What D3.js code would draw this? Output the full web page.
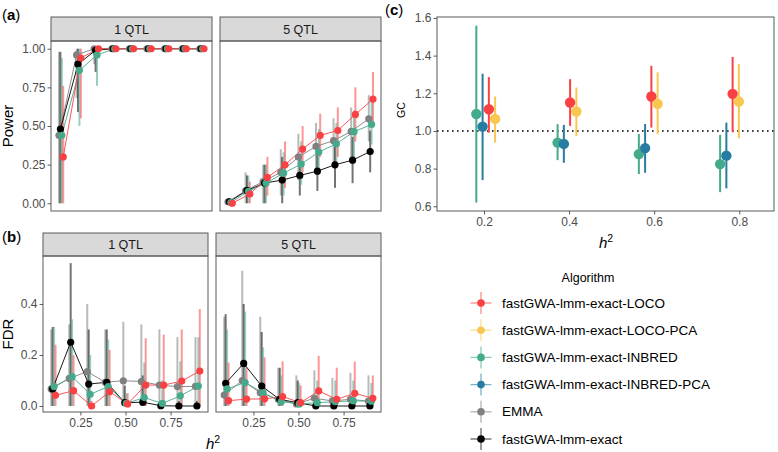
<!DOCTYPE html>
<html><head><meta charset="utf-8">
<script src="https://cdn.jsdelivr.net/npm/d3@7"></script>
<style>body{margin:0;background:#fff} svg{display:block;font-family:"Liberation Sans",Arial,sans-serif}</style>
</head><body><svg id="chart" width="778" height="452"></svg>
<script>
// ---------- data ----------
const h2 = [0.1, 0.2, 0.3, 0.4, 0.5, 0.6, 0.7, 0.8, 0.9];
const methodsAB = ["EMMA", "fastGWA-lmm-exact", "fastGWA-lmm-exact-INBRED", "fastGWA-lmm-exact-LOCO"];
const colorsAB = ["#808080", "#000000", "#43AA8B", "#F94144"];

// Power, 1 QTL (rows: EMMA, exact, INBRED, LOCO)
const power1QTL = [
  [0.44, 0.96, 1.00, 1, 1, 1, 1, 1, 1],
  [0.48, 0.90, 0.99, 1, 1, 1, 1, 1, 1],
  [0.44, 0.86, 0.96, 1, 1, 1, 1, 1, 1],
  [0.30, 0.94, 1.00, 1, 1, 1, 1, 1, 1]
];
const power1QTLLow = [
  [0, 0.68, 0.90, 1, 1, 1, 1, 1, 1],
  [0, 0.59, 0.85, 1, 1, 1, 1, 1, 1],
  [0, 0.50, 0.76, 1, 1, 1, 1, 1, 1],
  [0, 0.55, 0.97, 1, 1, 1, 1, 1, 1]
];
const power1QTLHigh = [
  [0.98, 1, 1, 1, 1, 1, 1, 1, 1],
  [0.98, 1, 1, 1, 1, 1, 1, 1, 1],
  [0.94, 1, 1, 1, 1, 1, 1, 1, 1],
  [0.76, 1, 1, 1, 1, 1, 1, 1, 1]
];
// Power, 5 QTL
const power5QTL = [
  [0.01, 0.081, 0.141, 0.20, 0.299, 0.368, 0.405, 0.465, 0.547],
  [0.01, 0.083, 0.131, 0.15, 0.180, 0.208, 0.249, 0.279, 0.335],
  [0.005, 0.077, 0.131, 0.195, 0.254, 0.331, 0.385, 0.463, 0.510],
  [0.0, 0.060, 0.167, 0.249, 0.351, 0.439, 0.471, 0.575, 0.674]
];
const power5QTLLow = [
  [0, 0, 0, 0.05, 0.15, 0.20, 0.25, 0.30, 0.40],
  [0, 0, 0, 0, 0.05, 0.08, 0.10, 0.13, 0.20],
  [0, 0, 0, 0.05, 0.12, 0.20, 0.25, 0.30, 0.38],
  [0, 0, 0.05, 0.10, 0.20, 0.30, 0.30, 0.40, 0.50]
];
const power5QTLHigh = [
  [0.03, 0.20, 0.25, 0.35, 0.45, 0.52, 0.55, 0.62, 0.70],
  [0.03, 0.18, 0.25, 0.30, 0.32, 0.36, 0.40, 0.43, 0.47],
  [0.02, 0.18, 0.25, 0.33, 0.40, 0.48, 0.52, 0.60, 0.66],
  [0.02, 0.14, 0.30, 0.40, 0.50, 0.58, 0.62, 0.75, 0.85]
];
// FDR, 1 QTL
const fdr1QTL = [
  [0.067, 0.108, 0.135, 0.093, 0.099, 0.096, 0.082, 0.076, 0.077],
  [0.067, 0.250, 0.086, 0.093, 0.013, 0.015, 0.001, 0.0, 0.0],
  [0.076, 0.115, 0.046, 0.076, 0.010, 0.033, 0.010, 0.040, 0.078],
  [0.042, 0.060, 0.0, 0.056, 0.008, 0.082, 0.082, 0.098, 0.137]
];
const fdr1QTLLow = [
  [0, 0, 0, 0, 0, 0, 0, 0, 0],
  [0, 0, 0, 0, 0, 0, 0, 0, 0],
  [0, 0, 0, 0, 0, 0, 0, 0, 0],
  [0, 0, 0, 0, 0, 0, 0, 0, 0]
];
const fdr1QTLHigh = [
  [0.30, 0.32, 0.40, 0.30, 0.33, 0.32, 0.30, 0.27, 0.27],
  [0.31, 0.56, 0.30, 0.30, 0.08, 0.12, 0.02, 0.02, 0.02],
  [0.31, 0.34, 0.20, 0.26, 0.05, 0.17, 0.10, 0.175, 0.27],
  [0.24, 0.20, 0.02, 0.22, 0.05, 0.266, 0.28, 0.30, 0.38]
];
// FDR, 5 QTL
const fdr5QTL = [
  [0.043, 0.100, 0.052, 0.026, 0.008, 0.030, 0.020, 0.026, 0.019],
  [0.089, 0.167, 0.078, 0.026, 0.013, 0.0, 0.0, 0.0, 0.0],
  [0.067, 0.092, 0.052, 0.017, 0.008, 0.013, 0.017, 0.020, 0.019],
  [0.021, 0.027, 0.028, 0.037, 0.013, 0.059, 0.026, 0.050, 0.030]
];
const fdr5QTLLow = fdr1QTLLow;
const fdr5QTLHigh = [
  [0.35, 0.53, 0.35, 0.15, 0.12, 0.14, 0.11, 0.13, 0.12],
  [0.36, 0.40, 0.29, 0.15, 0.10, 0.03, 0.02, 0.02, 0.02],
  [0.30, 0.37, 0.23, 0.12, 0.09, 0.10, 0.10, 0.10, 0.09],
  [0.17, 0.15, 0.19, 0.175, 0.08, 0.197, 0.15, 0.174, 0.12]
];

// GC panel
const gcMethods = ["fastGWA-lmm-exact-INBRED", "fastGWA-lmm-exact-INBRED-PCA", "fastGWA-lmm-exact-LOCO", "fastGWA-lmm-exact-LOCO-PCA"];
const gcColors = ["#43AA8B", "#277DA1", "#F94144", "#F9C74F"];
const gcH2 = [0.204, 0.395, 0.586, 0.777];
const gcMean = [
  [1.090, 0.938, 0.877, 0.824],
  [1.023, 0.931, 0.909, 0.869],
  [1.115, 1.151, 1.183, 1.197],
  [1.064, 1.103, 1.144, 1.156]
];
const gcLow = [
  [0.620, 0.845, 0.771, 0.675],
  [0.739, 0.831, 0.778, 0.695],
  [0.991, 1.027, 1.018, 0.993],
  [0.938, 0.973, 0.984, 0.961]
];
const gcHigh = [
  [1.559, 1.036, 0.984, 0.979],
  [1.304, 1.032, 1.037, 1.044],
  [1.286, 1.275, 1.346, 1.393],
  [1.183, 1.231, 1.311, 1.355]
];

// legend
const legendLabels = ["fastGWA-lmm-exact-LOCO", "fastGWA-lmm-exact-LOCO-PCA", "fastGWA-lmm-exact-INBRED",
  "fastGWA-lmm-exact-INBRED-PCA", "EMMA", "fastGWA-lmm-exact"];
const legendColors = ["#F94144", "#F9C74F", "#43AA8B", "#277DA1", "#808080", "#000000"];

const powerTicks = [0, 0.25, 0.5, 0.75, 1];
const fdrTicks = [0, 0.2, 0.4];
const h2Ticks = [0.25, 0.5, 0.75];
const gcTicks = [0.6, 0.8, 1.0, 1.2, 1.4, 1.6];
const gcXTicks = [0.2, 0.4, 0.6, 0.8];

// ---------- drawing ----------
const svg = d3.select("#chart");
const BORDER = "#5a5a5a", TICKTXT = "#4d4d4d";

function styleAxis(g) {
  g.select(".domain").remove();
  g.selectAll(".tick line").attr("stroke", "#333").attr("stroke-width", 0.8);
  g.selectAll(".tick text").attr("fill", TICKTXT).style("font-size", "12px")
    .style("font-family", "'Liberation Sans',Arial,sans-serif");
}

function drawFacet(o) {
  const x = d3.scaleLinear().domain([0.0425, 0.9575]).range([o.left, o.right]);
  const y = d3.scaleLinear().domain(o.yDomain).range([o.bottom, o.top]);
  const g = svg.append("g");
  // strip
  g.append("rect").attr("x", o.left).attr("y", o.stripTop).attr("width", o.right - o.left)
    .attr("height", o.top - o.stripTop).attr("fill", "#d9d9d9").attr("stroke", BORDER).attr("stroke-width", 1);
  g.append("text").attr("x", (o.left + o.right) / 2).attr("y", (o.top + o.stripTop) / 2 + 4.5)
    .attr("text-anchor", "middle").attr("fill", "#1a1a1a").style("font-size", "12.5px").text(o.label);
  const dodge = i => (i - 1.5) * 0.008;
  // error bars
  o.means.forEach((row, i) => {
    g.append("g").selectAll("line").data(row).join("line")
      .attr("x1", (d, j) => x(h2[j] + dodge(i))).attr("x2", (d, j) => x(h2[j] + dodge(i)))
      .attr("y1", (d, j) => y(o.lows[i][j])).attr("y2", (d, j) => y(o.highs[i][j]))
      .attr("stroke", colorsAB[i]).attr("stroke-opacity", 0.55).attr("stroke-width", 2);
  });
  // lines
  o.means.forEach((row, i) => {
    const line = d3.line().x((d, j) => x(h2[j] + dodge(i))).y(d => y(d));
    g.append("path").attr("d", line(row)).attr("fill", "none")
      .attr("stroke", colorsAB[i]).attr("stroke-width", 0.9);
  });
  // points
  o.means.forEach((row, i) => {
    g.append("g").selectAll("circle").data(row).join("circle")
      .attr("cx", (d, j) => x(h2[j] + dodge(i))).attr("cy", d => y(d)).attr("r", 3.6)
      .attr("fill", colorsAB[i]);
  });
  // border
  g.append("rect").attr("x", o.left).attr("y", o.top).attr("width", o.right - o.left)
    .attr("height", o.bottom - o.top).attr("fill", "none").attr("stroke", BORDER).attr("stroke-width", 1);
  if (o.yTicks) {
    const ay = g.append("g").attr("transform", `translate(${o.left},0)`)
      .call(d3.axisLeft(y).tickValues(o.yTicks).tickFormat(d3.format(o.yFmt)).tickSize(3.5).tickPadding(2));
    styleAxis(ay);
  }
  if (o.xTicks) {
    const ax = g.append("g").attr("transform", `translate(0,${o.bottom})`)
      .call(d3.axisBottom(x).tickValues(o.xTicks).tickFormat(d3.format(".2f")).tickSize(3.5).tickPadding(3));
    styleAxis(ax);
  }
}

// (a) Power
drawFacet({left: 51, right: 212, stripTop: 17, top: 41, bottom: 211, label: "1 QTL", yDomain: [-0.05, 1.05],
  means: power1QTL, lows: power1QTLLow, highs: power1QTLHigh, yTicks: powerTicks, yFmt: ".2f"});
drawFacet({left: 220, right: 381, stripTop: 17, top: 41, bottom: 211, label: "5 QTL", yDomain: [-0.05, 1.05],
  means: power5QTL, lows: power5QTLLow, highs: power5QTLHigh});
// (b) FDR
drawFacet({left: 43, right: 208, stripTop: 233, top: 256, bottom: 412, label: "1 QTL", yDomain: [-0.0235, 0.588],
  means: fdr1QTL, lows: fdr1QTLLow, highs: fdr1QTLHigh, yTicks: fdrTicks, yFmt: ".1f", xTicks: h2Ticks});
drawFacet({left: 216, right: 381, stripTop: 233, top: 256, bottom: 412, label: "5 QTL", yDomain: [-0.0235, 0.588],
  means: fdr5QTL, lows: fdr5QTLLow, highs: fdr5QTLHigh, xTicks: h2Ticks});

// axis titles (a)/(b)
svg.append("text").attr("transform", "translate(13,126) rotate(-90)").attr("text-anchor", "middle")
  .style("font-size", "15px").attr("fill", "#000").text("Power");
svg.append("text").attr("transform", "translate(13,334) rotate(-90)").attr("text-anchor", "middle")
  .style("font-size", "15px").attr("fill", "#000").text("FDR");
function h2Title(cx, baseline) {
  const t = svg.append("text").attr("x", cx).attr("y", baseline).attr("text-anchor", "middle")
    .style("font-size", "15px").attr("fill", "#000");
  t.append("tspan").style("font-style", "italic").text("h");
  t.append("tspan").attr("dy", -6).style("font-size", "10.5px").text("2");
}
h2Title(213, 449);

// panel labels
[["(a)", 2, 20], ["(b)", 2, 242], ["(c)", 385, 15]].forEach(([s, x, y]) => {
  const t = svg.append("text").attr("x", x).attr("y", y).style("font-size", "15px").attr("fill", "#000");
  t.append("tspan").text("(");
  t.append("tspan").style("font-weight", "bold").text(s[1]);
  t.append("tspan").text(")");
});

// (c) GC
(function () {
  const L = 437, R = 774, T = 17, B = 211;
  const x = d3.scaleLinear().domain([0.0895, 0.8816]).range([L, R]);
  const y = d3.scaleLinear().domain([0.575, 1.605]).range([B, T]);
  const g = svg.append("g");
  g.append("line").attr("x1", L).attr("x2", R).attr("y1", y(1)).attr("y2", y(1))
    .attr("stroke", "#000").attr("stroke-width", 1.6).attr("stroke-dasharray", "1.6,3.4");
  const step = 0.0147;
  gcMean.forEach((row, i) => {
    const off = (i - 1.5) * step;
    g.append("g").selectAll("line").data(row).join("line")
      .attr("x1", (d, j) => x(gcH2[j] + off)).attr("x2", (d, j) => x(gcH2[j] + off))
      .attr("y1", (d, j) => y(gcLow[i][j])).attr("y2", (d, j) => y(gcHigh[i][j]))
      .attr("stroke", gcColors[i]).attr("stroke-width", 2);
  });
  gcMean.forEach((row, i) => {
    const off = (i - 1.5) * step;
    g.append("g").selectAll("circle").data(row).join("circle")
      .attr("cx", (d, j) => x(gcH2[j] + off)).attr("cy", d => y(d)).attr("r", 5.2)
      .attr("fill", gcColors[i]);
  });
  g.append("rect").attr("x", L).attr("y", T).attr("width", R - L).attr("height", B - T)
    .attr("fill", "none").attr("stroke", BORDER).attr("stroke-width", 1);
  const ay = g.append("g").attr("transform", `translate(${L},0)`)
    .call(d3.axisLeft(y).tickValues(gcTicks).tickFormat(d3.format(".1f")).tickSize(3.5).tickPadding(2));
  styleAxis(ay);
  const ax = g.append("g").attr("transform", `translate(0,${B})`)
    .call(d3.axisBottom(x).tickValues(gcXTicks).tickFormat(d3.format(".1f")).tickSize(3.5).tickPadding(3));
  styleAxis(ax);
  svg.append("text").attr("transform", "translate(405,110) rotate(-90)").attr("text-anchor", "middle")
    .style("font-size", "10.5px").attr("fill", "#000").text("GC");
  h2Title(606, 248);
})();

// legend
(function () {
  const kx = 481, tx = 502, y0 = 303, dy = 27.2;
  svg.append("text").attr("x", 588).attr("y", 282).attr("text-anchor", "middle")
    .style("font-size", "12.5px").attr("fill", "#000").text("Algorithm");
  legendLabels.forEach((lab, i) => {
    const yy = y0 + i * dy;
    const g = svg.append("g");
    g.append("line").attr("x1", kx - 10.5).attr("x2", kx + 10.5).attr("y1", yy).attr("y2", yy)
      .attr("stroke", legendColors[i]).attr("stroke-opacity", 0.6).attr("stroke-width", 1.3);
    g.append("line").attr("x1", kx).attr("x2", kx).attr("y1", yy - 11).attr("y2", yy + 11)
      .attr("stroke", legendColors[i]).attr("stroke-opacity", 0.6).attr("stroke-width", 1.3);
    g.append("circle").attr("cx", kx).attr("cy", yy).attr("r", 3.8).attr("fill", legendColors[i]);
    g.append("text").attr("x", tx).attr("y", yy + 4.6).style("font-size", "13.5px").attr("fill", "#000").text(lab);
  });
})();
</script></body></html>
